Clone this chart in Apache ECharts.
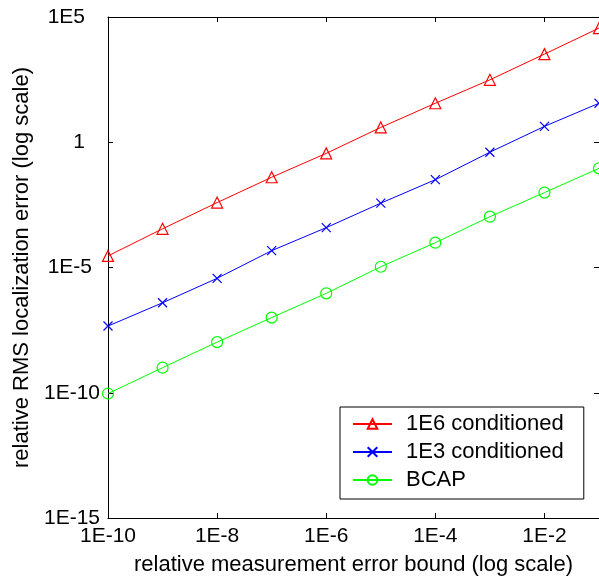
<!DOCTYPE html>
<html>
<head>
<meta charset="utf-8">
<script src="https://cdn.jsdelivr.net/npm/echarts@6/dist/echarts.min.js"></script>
<style>
html,body{margin:0;padding:0;background:#fff;}
#chart{width:599px;height:582px;}
</style>
</head>
<body>
<div id="chart"></div>
<script>
// x values: relative measurement error bound
const xValues = [1e-10, 1e-9, 1e-8, 1e-7, 1e-6, 1e-5, 1e-4, 1e-3, 1e-2, 1e-1];
// series values: relative RMS localization error
const cond1E6 = [2.9e-5, 3.5e-4, 3.9e-3, 0.040, 0.36, 3.9, 36, 310, 3300, 36000];
const cond1E3 = [4.6e-8, 3.9e-7, 3.7e-6, 4.7e-5, 3.9e-4, 3.7e-3, 0.032, 0.40, 4.3, 36];
const bcap    = [9.3e-11, 1.0e-9, 1.05e-8, 1.0e-7, 9.3e-7, 1.07e-5, 9.8e-5, 1.07e-3, 9.8e-3, 0.091];
const seriesNames = ['1E6 conditioned', '1E3 conditioned', 'BCAP'];
// tick labels
const xTickValues = [1e-10, 1e-8, 1e-6, 1e-4, 1e-2];
const xTickLabels = ['1E-10', '1E-8', '1E-6', '1E-4', '1E-2'];
const yTickValues = [1e-15, 1e-10, 1e-5, 1, 1e5];
const yTickLabels = ['1E-15', '1E-10', '1E-5', '1', '1E5'];
const yLabelStyleKeys = ['s0', 's0', 's8', 's15', 's15'];

function idxFor(values, v) {
  const e = Math.round(Math.log10(v));
  for (let i = 0; i < values.length; i++) {
    if (Math.round(Math.log10(values[i])) === e) return i;
  }
  return -1;
}
const pair = (ys) => xValues.map((x, i) => [x, ys[i]]);

const font = 'Liberation Sans, Arial, sans-serif';
const axisCommon = {
  axisLine: {show: true, lineStyle: {color: '#000', width: 1}},
  splitLine: {show: false},
  minorTick: {show: false}
};
const richBase = {fontFamily: font, fontSize: 21, color: '#000'};

const chart = echarts.init(document.getElementById('chart'), null, {renderer: 'canvas'});
const xSym = 'path://M0,0L10,10M10,0L0,10';
chart.setOption({
  animation: false,
  backgroundColor: '#fff',
  grid: {left: 108, top: 17, width: 492, height: 501, containLabel: false},
  xAxis: [
    Object.assign({}, axisCommon, {
      type: 'log', logBase: 10, min: 1e-10, max: 1e-1, position: 'bottom',
      name: 'relative measurement error bound (log scale)',
      nameLocation: 'middle', nameGap: 36,
      nameTextStyle: {fontFamily: font, fontSize: 22, color: '#000'},
      axisTick: {show: true, inside: true, length: 5, lineStyle: {color: '#000'}, customValues: xTickValues},
      axisLabel: {show: true, margin: 8, fontFamily: font, fontSize: 21, color: '#000',
        customValues: xTickValues,
        formatter: function (v) { const i = idxFor(xTickValues, v); return i < 0 ? '' : xTickLabels[i]; }}
    }),
    Object.assign({}, axisCommon, {
      type: 'log', logBase: 10, min: 1e-10, max: 1e-1, position: 'top',
      axisTick: {show: true, inside: true, length: 5, lineStyle: {color: '#000'}, customValues: xTickValues},
      axisLabel: {show: false}
    })
  ],
  yAxis: [
    Object.assign({}, axisCommon, {
      type: 'log', logBase: 10, min: 1e-15, max: 1e5, position: 'left',
      name: 'relative RMS localization error (log scale)',
      nameLocation: 'middle', nameGap: 65,
      nameTextStyle: {fontFamily: font, fontSize: 22, color: '#000'},
      axisTick: {show: true, inside: true, length: 5, lineStyle: {color: '#000'}, customValues: yTickValues},
      axisLabel: {show: true, margin: 8, fontFamily: font, fontSize: 21, color: '#000',
        customValues: yTickValues,
        formatter: function (v) {
          const i = idxFor(yTickValues, v);
          return i < 0 ? '' : '{' + yLabelStyleKeys[i] + '|' + yTickLabels[i] + '}';
        },
        rich: {
          s0: Object.assign({}, richBase),
          s8: Object.assign({padding: [0, 8, 0, 0]}, richBase),
          s15: Object.assign({padding: [0, 15, 0, 0]}, richBase)
        }}
    }),
    Object.assign({}, axisCommon, {
      type: 'log', logBase: 10, min: 1e-15, max: 1e5, position: 'right',
      axisTick: {show: true, inside: true, length: 5, lineStyle: {color: '#000'}, customValues: yTickValues},
      axisLabel: {show: false}
    })
  ],
  legend: {
    orient: 'vertical', left: 340, top: 407,
    padding: [6, 20, 8, 12],
    itemWidth: 39, itemHeight: 12, itemGap: 6,
    borderColor: '#000', borderWidth: 1, borderRadius: 0,
    backgroundColor: '#fff',
    textStyle: {fontFamily: font, fontSize: 22, color: '#000', lineHeight: 22, padding: [0, 0, 0, 9]},
    data: seriesNames
  },
  series: [
    {
      name: seriesNames[0], type: 'line', data: pair(cond1E6),
      symbol: 'triangle', symbolSize: 11, showAllSymbol: true,
      lineStyle: {color: '#ff0000', width: 1},
      itemStyle: {color: 'rgba(255,255,255,0)', borderColor: '#ff0000', borderWidth: 1.2}
    },
    {
      name: seriesNames[1], type: 'line', data: pair(cond1E3),
      symbol: xSym, symbolSize: 9, showAllSymbol: true,
      lineStyle: {color: '#0000ff', width: 1},
      itemStyle: {color: 'rgba(255,255,255,0)', borderColor: '#0000ff', borderWidth: 1.2}
    },
    {
      name: seriesNames[2], type: 'line', data: pair(bcap),
      symbol: 'circle', symbolSize: 11, showAllSymbol: true,
      lineStyle: {color: '#00ff00', width: 1},
      itemStyle: {color: 'rgba(255,255,255,0)', borderColor: '#00ff00', borderWidth: 1.2}
    }
  ]
});
</script>
</body>
</html>
